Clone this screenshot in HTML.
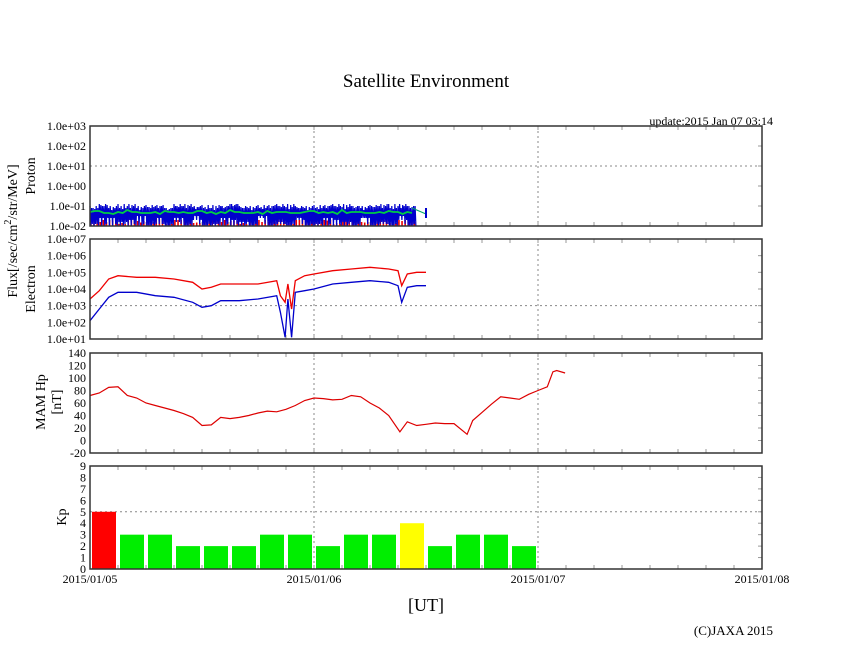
<!DOCTYPE html>
<html><head><meta charset="utf-8"><style>
body{margin:0;background:#fff}
svg{display:block;font-family:"Liberation Serif",serif}
</style></head><body>
<svg id="c" width="846" height="655" viewBox="0 0 846 655">
<text x="426" y="87" font-size="19" text-anchor="middle">Satellite Environment</text>
<text x="773" y="125" font-size="12" text-anchor="end">update:2015 Jan 07 03:14</text>
<text transform="translate(17,231) rotate(-90)" font-size="14" text-anchor="middle">Flux[/sec/cm<tspan dy="-6" font-size="10">2</tspan><tspan dy="6">/str/MeV]</tspan></text>
<text transform="translate(35,176) rotate(-90)" font-size="14" text-anchor="middle">Proton</text>
<text transform="translate(35,289) rotate(-90)" font-size="14" text-anchor="middle">Electron</text>
<text transform="translate(45,402) rotate(-90)" font-size="14" text-anchor="middle">MAM Hp</text>
<text transform="translate(61,402) rotate(-90)" font-size="14" text-anchor="middle">[nT]</text>
<text transform="translate(66,517) rotate(-90)" font-size="14" text-anchor="middle">Kp</text>
<text x="426" y="611" font-size="18" text-anchor="middle">[UT]</text>
<text x="773" y="635" font-size="13" text-anchor="end">(C)JAXA 2015</text>
<g id="g"></g>
</svg>
<script>
const dayLabels=["2015/01/05","2015/01/06","2015/01/07","2015/01/08"];
const protonTicks=["1.0e+03","1.0e+02","1.0e+01","1.0e+00","1.0e-01","1.0e-02"];
const electronTicks=["1.0e+07","1.0e+06","1.0e+05","1.0e+04","1.0e+03","1.0e+02","1.0e+01"];
const mamTicks=[140,120,100,80,60,40,20,0,-20];
const kpTicks=[9,8,7,6,5,4,3,2,1,0];
const kpValues=[5,3,3,2,2,2,3,3,2,3,3,4,2,3,3,2];
const mamHours=[0,1,2,3,4,5,6,7,8,9,10,11,12,13,14,15,16,17,18,19,20,21,22,23,24,25,26,27,28,29,30,31,32,33.2,34,35,36,37,38,39,40.4,41,42,43,44,45,46,47,48,49,49.6,50,50.9];
const mamValues=[72,76,85,86,72,68,60,56,52,48,43,37,24,25,37,35,37,40,44,47,46,50,56,64,68,67,65,66,72,70,60,52,40,14,30,24,26,28,27,27,10,32,45,58,70,68,66,74,80,86,110,112,108];
const elecHours=[0,1,2,3,5,7,9,11,12,13,14,16,18,20,20.4,20.9,21.2,21.6,22,23,24,26,28,30,32,33,33.4,34,35,36];
const elecRed=[3.4,3.9,4.6,4.8,4.7,4.7,4.6,4.4,4.0,4.1,4.3,4.3,4.3,4.5,3.6,3.2,4.3,2.8,4.5,4.8,4.9,5.1,5.2,5.3,5.2,5.1,4.2,4.9,5.0,5.0];
const elecBlue=[2.1,2.8,3.5,3.8,3.8,3.6,3.5,3.2,2.9,3.0,3.3,3.3,3.4,3.6,2.6,1.1,3.4,1.1,3.8,3.9,4.0,4.3,4.4,4.5,4.4,4.2,3.2,4.1,4.2,4.2];
const protonHi=[-1.0,-0.9,-1.1,-0.9,-1.0,-1.1,-0.95,-1.0,-1.1,-0.9,-1.0,-1.05,-0.95,-1.1,-1.0,-0.9,-1.0,-1.1,-0.95,-1.0,-0.9,-1.05,-1.0,-1.1,-0.95,-1.0,-0.9,-1.05,-1.0,-1.1,-0.95,-1.0,-0.9,-1.0,-1.0];
const protonLo=[-2,-1.6,-2,-1.8,-2,-1.5,-2,-1.9,-2,-1.6,-2,-1.7,-2,-2,-1.6,-2,-1.8,-2,-1.5,-2,-1.9,-2,-1.7,-2,-2,-1.6,-2,-1.8,-2,-1.6,-2,-1.9,-2,-1.7,-2];
const protonGreen=[-1.3,-1.25,-1.35,-1.3,-1.2,-1.3,-1.35,-1.3,-1.25,-1.3,-1.3,-1.35,-1.25,-1.3,-1.3,-1.2,-1.3,-1.35,-1.3,-1.25,-1.3,-1.3,-1.35,-1.3,-1.25,-1.3,-1.3,-1.2,-1.3,-1.3,-1.35,-1.3,-1.25,-1.3,-1.3];
const protonRed=[-1.6,-1.8,-1.7,-1.9,-1.6,-1.75,-1.8,-1.6,-1.9,-1.7,-1.65,-1.85,-1.7,-1.6,-1.8,-1.75,-1.9,-1.6,-1.7,-1.8,-1.65,-1.9,-1.7,-1.6,-1.8,-1.7,-1.9,-1.6,-1.75,-1.8,-1.7,-1.6,-1.85,-1.7,-1.8];

const NS='http://www.w3.org/2000/svg';
const G=document.getElementById('g');
const X0=90,X1=762,H=72;
const xs=h=>X0+(X1-X0)*h/H;
function el(t,a,p){const e=document.createElementNS(NS,t);for(const k in a)e.setAttribute(k,a[k]);(p||G).appendChild(e);return e;}
const panels=[
 {name:'proton',top:126,bot:226,min:-2,max:3,labels:protonTicks,vals:[3,2,1,0,-1,-2],grid:[1]},
 {name:'electron',top:239,bot:339,min:1,max:7,labels:electronTicks,vals:[7,6,5,4,3,2,1],grid:[3]},
 {name:'mam',top:353,bot:453,min:-20,max:140,labels:mamTicks,vals:mamTicks,grid:[]},
 {name:'kp',top:466,bot:569,min:0,max:9,labels:kpTicks,vals:kpTicks,grid:[5]}
];
panels.forEach(p=>{p.y=v=>p.bot-(v-p.min)/(p.max-p.min)*(p.bot-p.top);});
function poly(xsArr,ysArr,color,name,w){
  let d='';xsArr.forEach((h,i)=>{d+=(i?'L':'M')+xs(h).toFixed(1)+' '+ysArr[i].toFixed(1);});
  const e=el('path',{d:d,fill:'none',stroke:color,'stroke-width':w||1.2});
  
  
}
panels.forEach(p=>{
  const dash={stroke:'#888','stroke-dasharray':'2,3','stroke-width':1};
  [24,48].forEach(h=>el('line',Object.assign({x1:xs(h),x2:xs(h),y1:p.top,y2:p.bot},dash)));
  p.grid.forEach(v=>el('line',Object.assign({x1:X0,x2:X1,y1:p.y(v),y2:p.y(v)},dash)));
  for(let h=3;h<H;h+=3){el('line',{x1:xs(h),x2:xs(h),y1:p.top,y2:p.top+4,stroke:'#999'});el('line',{x1:xs(h),x2:xs(h),y1:p.bot,y2:p.bot-4,stroke:'#999'});}
  p.vals.forEach((v,i)=>{
    const y=p.y(v);
    el('line',{x1:X1,x2:X1-4,y1:y,y2:y,stroke:'#999'});
    const t=el('text',{x:86,y:y+4,'font-size':12,'text-anchor':'end'});
    t.textContent=p.labels[i];
    
    
  });
});
// proton
(function(){const p=panels[0];
 const hx=[],hy=[],gx=[],gy=[];
 const n=protonHi.length;
 protonRed.forEach((v,i)=>{for(let k=0;k<3;k++){const e=el('line',{x1:xs(i+k/3+0.1),x2:xs(i+k/3+0.1),y1:p.bot,y2:p.y(k===1?(v+protonRed[(i+3)%n])/2:v),stroke:'#e00','stroke-width':1.6});}});
 protonHi.forEach((v,i)=>{
   const lo=protonLo[i],lo2=protonLo[(i+7)%n],hi2=protonHi[(i+5)%n];
   const seq=[[v,lo],[hi2,lo2],[v-0.1,lo],[hi2-0.05,lo2],[v,-1.9],[hi2,lo]];
   seq.forEach((s,k)=>{hx.push(i+k/6,i+k/6+1/12);hy.push(p.y(s[0]),p.y(s[1]));});
 });
 poly(hx,hy,'#00c','proton-blue-series',1.2);
 protonGreen.forEach((v,i)=>{gx.push(i,i+0.5);gy.push(p.y(v),p.y(protonGreen[(i+4)%n]-0.05));});
 poly(gx,gy,'#0c4','proton-green-series',1.8);
 poly([34.5,36],[p.y(-1.1),p.y(-1.4)],'#0a6','proton-green-tail',1);
 poly([36,36],[p.y(-1.6),p.y(-1.1)],'#00c','proton-blue-tail',2);
})();
// electron
(function(){const p=panels[1];
 poly(elecHours,elecRed.map(p.y),'#e00','electron-red-series',1.3);
 poly(elecHours,elecBlue.map(p.y),'#00c','electron-blue-series',1.3);
})();
poly(mamHours,mamValues.map(panels[2].y),'#d00','mam-hp-series',1.2);
// kp
(function(){const p=panels[3];
 kpValues.forEach((v,i)=>{
  const c=v>=5?'#f00':v>=4?'#ff0':'#0e0';
  const r=el('rect',{x:xs(i*3)+2,y:p.y(v),width:xs(3)-X0-4,height:p.bot-p.y(v),fill:c});
  
  
 });
})();
panels.forEach(p=>{const r=el('rect',{x:X0,y:p.top,width:X1-X0,height:p.bot-p.top,fill:'none',stroke:'#333','stroke-width':1.5});
 
 });
dayLabels.forEach((d,i)=>{const t=el('text',{x:xs(i*24),y:583,'font-size':12,'text-anchor':'middle'});t.textContent=d;
 
 });
</script>
</body></html>
